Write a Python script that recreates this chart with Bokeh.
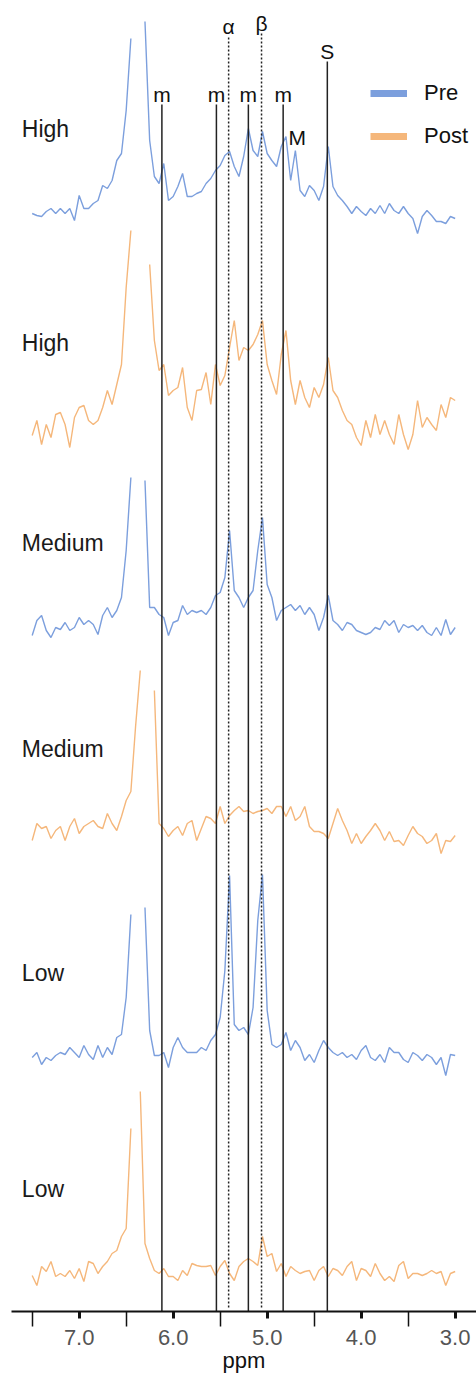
import numpy as np
from bokeh.plotting import figure
from bokeh.models import Range1d, FixedTicker, Legend, LegendItem, NumeralTickFormatter
from bokeh.core.properties import value
from bokeh.embed import file_html
from bokeh.resources import INLINE

nan = float("nan")

# chemical-shift sampling grid (ppm), 7.50 -> 3.00 in 0.05 steps
ppm = np.linspace(7.5, 3.0, 91)

# intensities (arbitrary units), one value per grid point
high_pre = [0, -2, -3, 2, 5, 0, 5, 0, 5, -7,
            18, 5, 5, 10, 13, 28, 25, 33, 53, 60,
            103, 175, nan, nan, 192, 73, 37, 30, 50, 13,
            17, 27, 40, 17, 17, 20, 22, 30, 35, 43,
            48, 58, 62, 47, 37, 57, 85, 63, 57, 82,
            60, 53, 47, 67, 77, 33, 63, 23, 17, 28,
            23, 13, 27, 67, 27, 18, 13, 7, 0, 7,
            2, -2, 5, 0, 8, 0, 10, 3, 0, 7,
            0, -5, -20, -3, 3, -2, -8, -8, -10, -3,
            -5]
high_post = [-8, 7, -17, 3, -10, 13, 15, 3, -20, 10,
             20, 22, 7, 3, 7, 20, 37, 23, 43, 63,
             140, 197, nan, nan, nan, 163, 87, 57, 63, 32,
             37, 40, 60, 20, 7, 37, 38, 55, 23, 63,
             42, 52, 80, 107, 67, 80, 77, 83, 93, 107,
             63, 47, 33, 73, 97, 47, 23, 47, 30, 20,
             40, 30, 43, 70, 37, 30, 17, 7, 3, -10,
             -18, 7, -10, 13, -7, 7, -7, -17, 13, -7,
             -22, -7, 27, 0, 10, 3, -3, 23, 10, 30,
             27]
medium_pre = [-8, 7, 12, -3, -10, 0, -2, 5, -3, 0,
              10, 3, 7, 3, -7, 12, 20, 10, 17, 30,
              77, 150, nan, nan, 147, 20, 20, 13, 10, -8,
              5, 7, 22, 13, 17, 15, 17, 13, 20, 32,
              35, 50, 97, 37, 30, 20, 30, 37, 77, 110,
              43, 30, 7, 17, 20, 23, 17, 22, 13, 20,
              13, -3, 10, 32, 7, 3, -3, 5, 3, -3,
              -5, -7, -5, 0, -2, 7, 2, 7, -5, 3,
              0, 2, -3, 2, -5, -8, 0, -8, 8, -7,
              0]
medium_post = [-7, 10, 5, 7, -5, 3, 7, -7, 7, 15,
               0, 7, 10, 13, 7, 5, 20, 10, 3, 17,
               33, 42, 107, 163, nan, nan, 143, 10, 5, -3,
               3, 7, -2, 10, 13, -7, 5, 17, 15, 10,
               27, 10, 18, 23, 27, 22, 23, 20, 22, 23,
               25, 20, 27, 27, 17, 27, 13, 17, 27, 7,
               2, 2, 0, -5, 10, 25, 13, 3, -10, 0,
               -10, -3, 3, 10, 3, -7, 2, -8, -7, -12,
               -2, 7, 0, -3, -10, -7, 0, -20, -7, -8,
               -2]
low_pre = [0, 5, -7, 0, -3, 2, 5, 3, 10, 5,
           0, 12, 3, -2, 12, 0, 10, 3, 20, 23,
           60, 143, nan, nan, 150, 27, 2, 2, 5, -10,
           10, 20, 10, 5, 5, 5, 10, 7, 17, 23,
           40, 87, 182, 33, 27, 30, 23, 50, 137, 183,
           47, 13, 10, 13, 25, 7, 17, 10, -3, 3,
           -5, 7, 17, 10, 5, 2, 5, 0, 3, -2,
           7, 12, 0, -3, 3, -5, 10, 5, 5, -2,
           -5, 5, 2, -3, 3, 0, -7, 0, -18, 3,
           2]
low_post = [-2, -12, 7, 2, 12, -3, 0, -3, 3, -5,
            5, -8, 12, 10, 0, 7, 12, 20, 23, 37,
            45, 145, nan, 182, 30, 15, 3, 0, 5, -3,
            -3, -7, 3, -2, 10, 8, 7, 7, 8, -2,
            7, 13, 0, -7, 7, 12, 15, 12, 8, 37,
            17, 20, 2, 10, -3, 7, 3, 0, 2, 3,
            -7, 3, 7, -3, 5, 3, -2, 7, 12, -7,
            5, 3, -3, 10, 0, -7, -3, -8, 8, 12,
            -5, 0, 0, -2, 0, 3, 0, 2, -12, 0,
            2]

spectra = [high_pre, high_post, medium_pre, medium_post, low_pre, low_post]
group_labels = ["High", "High", "Medium", "Medium", "Low", "Low"]
conditions = ["Pre", "Post", "Pre", "Post", "Pre", "Post"]
stack_offsets = [1098, 884, 684, 478, 254, 38]

# assignment markers
solid_ppm = [6.12, 5.54, 5.20, 4.83, 4.36]
solid_top = [1207, 1207, 1207, 1207, 1250]
solid_text = ["m", "m", "m", "m", "S"]
dotted_ppm = [5.41, 5.06]
dotted_top = [1276, 1279]
dotted_text = ["α", "β"]
extra_ppm = [4.68]
extra_y = [1174]
extra_text = ["M"]

major_ticks = [3.0, 4.0, 5.0, 6.0, 7.0]
minor_ticks = [3.5, 4.5, 5.5, 6.5, 7.5]

colors = {"Pre": "#7C9FDD", "Post": "#F5B77B"}
FONT = value("Liberation Sans")

p = figure(width=476, height=1380, x_range=Range1d(7.72, 2.773), y_range=Range1d(0, 1311),
           output_backend="svg", toolbar_location=None, y_axis_location=None,
           min_border_left=11, min_border_right=0, min_border_top=0, min_border_bottom=69)
p.outline_line_color = None
p.xgrid.visible = False
p.ygrid.visible = False
p.background_fill_color = "white"

for vals, cond, off in zip(spectra, conditions, stack_offsets):
    y = np.array(vals, dtype=float) + off
    p.line(ppm, y, line_color=colors[cond], line_width=1.4)

# marker lines
p.segment(x0=solid_ppm, y0=[0] * len(solid_ppm), x1=solid_ppm, y1=solid_top,
          line_color="#222222", line_width=1.5)
p.segment(x0=dotted_ppm, y0=[4] * len(dotted_ppm), x1=dotted_ppm, y1=dotted_top,
          line_color="#222222", line_width=1.5, line_dash="2 2")

lab_x = solid_ppm + dotted_ppm + extra_ppm
lab_y = [t + 10 for t in solid_top] + [t + 9 for t in dotted_top] + extra_y
lab_t = solid_text + dotted_text + extra_text
p.text(x=lab_x, y=lab_y, text=lab_t, text_align="center", text_baseline="alphabetic",
       text_font=FONT, text_font_size="21px", text_color="#111111")

# group labels
p.text(x=[7.61] * 6, y=[o + 85 for o in stack_offsets], text=group_labels,
       text_align="left", text_baseline="middle", text_font=FONT,
       text_font_size="23px", text_color="#1a1a1a")

# legend swatches: renderers whose data lie outside the visible ranges
r_pre = p.line(x=[20, 21], y=[-500, -500], line_color=colors["Pre"], line_width=7)
r_post = p.line(x=[20, 21], y=[-500, -500], line_color=colors["Post"], line_width=7)
legend = Legend(items=[LegendItem(label="Pre", renderers=[r_pre]),
                       LegendItem(label="Post", renderers=[r_post])],
                location=(359, 1160), glyph_width=37, glyph_height=30, spacing=13,
                padding=0, margin=0, label_standoff=17, border_line_color=None,
                background_fill_alpha=0, label_text_font_size="22px",
                label_text_font="Liberation Sans", label_text_color="#111111")
p.add_layout(legend)

ax = p.xaxis[0]
ax.ticker = FixedTicker(ticks=major_ticks, minor_ticks=minor_ticks)
ax.formatter = NumeralTickFormatter(format="0.0")
ax.axis_line_width = 2
ax.axis_line_color = "#111111"
ax.major_tick_in = 0
ax.major_tick_out = 7
ax.major_tick_line_width = 3
ax.major_tick_line_color = "#111111"
ax.minor_tick_in = 0
ax.minor_tick_out = 15
ax.minor_tick_line_width = 1.5
ax.minor_tick_line_color = "#111111"
ax.major_label_text_font = "Liberation Sans"
ax.major_label_text_font_size = "22px"
ax.major_label_text_color = "#555555"
ax.major_label_standoff = 3
ax.axis_label = "ppm"
ax.axis_label_text_font = "Liberation Sans"
ax.axis_label_text_font_size = "22px"
ax.axis_label_text_font_style = "normal"
ax.axis_label_text_color = "#111111"
ax.axis_label_standoff = 0

open("out.html", "w").write(file_html(p, INLINE))
